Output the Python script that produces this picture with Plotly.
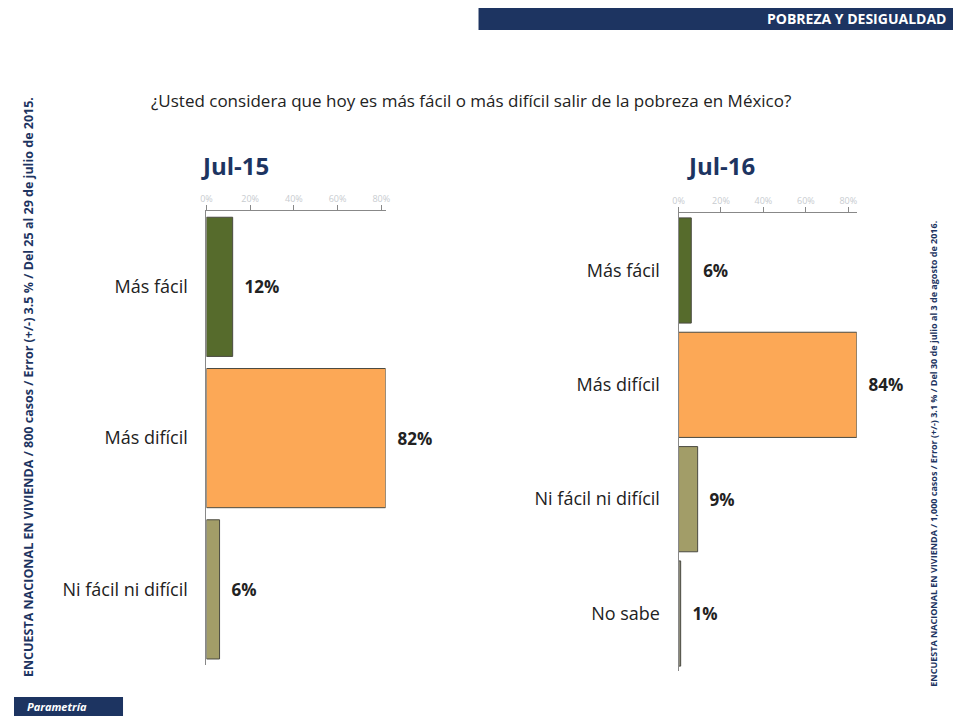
import plotly.graph_objects as go

# Data
cats_15 = ["Más fácil", "Más difícil", "Ni fácil ni difícil"]
vals_15 = [12, 82, 6]
colors_15 = ["#566b2c", "#fca856", "#a29d68"]

cats_16 = ["Más fácil", "Más difícil", "Ni fácil ni difícil", "No sabe"]
vals_16 = [6, 84, 9, 1]
colors_16 = ["#566b2c", "#fca856", "#a29d68", "#8f8d7c"]

tick_vals = [0, 20, 40, 60, 80]
tick_text = ["0%", "20%", "40%", "60%", "80%"]

fig = go.Figure()

fig.add_trace(go.Bar(
    x=vals_15, y=cats_15, orientation="h", xaxis="x", yaxis="y",
    marker=dict(color=colors_15, line=dict(color="#4a4a40", width=1)),
    text=[f"{v}%" for v in vals_15], textposition="outside",
    textfont=dict(family="Open Sans", size=17, color="#222222"),
    texttemplate="  <b>%{text}</b>", cliponaxis=False, showlegend=False,
))
fig.add_trace(go.Bar(
    x=vals_16, y=cats_16, orientation="h", xaxis="x2", yaxis="y2",
    marker=dict(color=colors_16, line=dict(color="#4a4a40", width=1)),
    text=[f"{v}%" for v in vals_16], textposition="outside",
    textfont=dict(family="Open Sans", size=17, color="#222222"),
    texttemplate="  <b>%{text}</b>", cliponaxis=False, showlegend=False,
))

axis_common = dict(
    side="top", tickvals=tick_vals, ticktext=tick_text, showgrid=False,
    showline=True, linecolor="#888888", ticks="outside", tickcolor="#888888",
    ticklen=5, tickfont=dict(size=9, color="#c8ccd0"), zeroline=False,
)
ycommon = dict(autorange="reversed", showline=True, linecolor="#888888", ticks="",
               tickfont=dict(size=18, color="#222222"), ticksuffix="   ")
fig.update_layout(
    width=958, height=708,
    paper_bgcolor="white", plot_bgcolor="rgba(0,0,0,0)",
    margin=dict(l=0, r=0, t=0, b=0),
    bargap=0.08,
    font=dict(family="Open Sans", color="#222222"),
    xaxis=dict(domain=[0.203, 0.392], range=[0, 82], anchor="y", **axis_common),
    yaxis=dict(domain=[0.072, 0.713], anchor="x", **ycommon),
    xaxis2=dict(domain=[0.701, 0.889], range=[0, 84], anchor="y2", **axis_common),
    yaxis2=dict(domain=[0.064, 0.71], anchor="x2", **ycommon),
)

shapes = [
    dict(type="rect", xref="paper", yref="paper", x0=0.49, x1=1, y0=0.969, y1=1,
         fillcolor="#1d3461", line=dict(width=0), layer="below"),
    dict(type="rect", xref="paper", yref="paper", x0=0, x1=0.115, y0=0, y1=0.027,
         fillcolor="#1d3461", line=dict(width=0), layer="below"),
]
fig.update_layout(shapes=shapes)

annotations = [
    dict(text="<b>POBREZA Y DESIGUALDAD</b>", x=0.985, y=0.985, xanchor="right",
         font=dict(size=14, color="white")),
    dict(text="¿Usted considera que hoy es más fácil o más difícil salir de la pobreza en México?",
         x=0.482, y=0.87, xanchor="center", font=dict(size=17, color="#222222")),
    dict(text="<b>Jul-15</b>", x=0.195, y=0.777, xanchor="left",
         font=dict(size=24, color="#1d3461")),
    dict(text="<b>Jul-16</b>", x=0.708, y=0.777, xanchor="left",
         font=dict(size=24, color="#1d3461")),
    dict(text="<b>ENCUESTA NACIONAL EN VIVIENDA / 800 casos / Error (+/-) 3.5 % / Del 25 al 29 de julio de 2015.</b>",
         x=0.004, y=0.465, textangle=-90, font=dict(size=12.5, color="#1d3461")),
    dict(text="<b>ENCUESTA NACIONAL EN VIVIENDA / 1,000 casos / Error (+/-) 3.1 % / Del 30 de julio al 3 de agosto de 2016.</b>",
         x=0.978, y=0.37, textangle=-90, font=dict(size=9, color="#1d3461")),
    dict(text="<b><i>Parametría</i></b>", x=0.012, y=0.0135, xanchor="left",
         font=dict(size=11, color="white")),
]
for a in annotations:
    a.update(xref="paper", yref="paper", showarrow=False, yanchor="middle")
fig.update_layout(annotations=annotations)

fig.write_html("out.html")
